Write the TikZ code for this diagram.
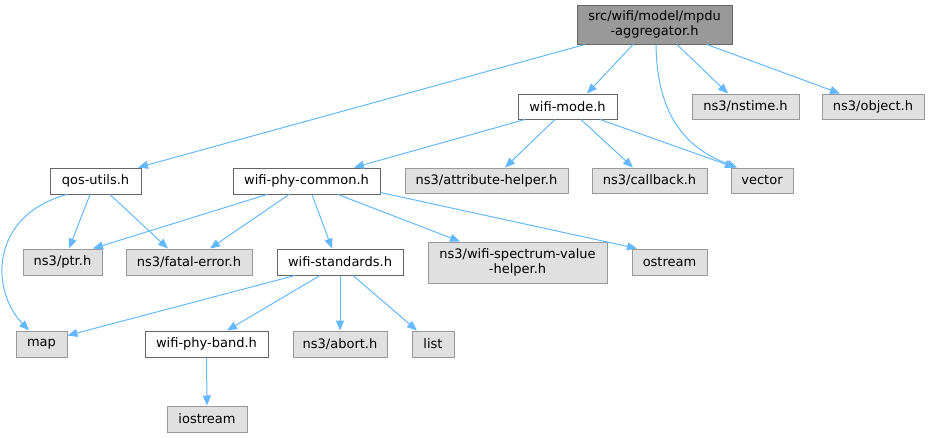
\documentclass[tikz,border=0pt]{standalone}
\usepackage{fontspec}
\setmainfont{DejaVu Sans}
\usetikzlibrary{arrows.meta}
\definecolor{edgeblue}{HTML}{63B8FF}
\definecolor{rootfill}{HTML}{999999}
\definecolor{darkborder}{HTML}{666666}
\definecolor{grayfill}{HTML}{E0E0E0}
\definecolor{grayborder}{HTML}{999999}
\begin{document}
\begin{tikzpicture}[x=1pt,y=-1pt,
  base/.style={rectangle,inner sep=0pt,minimum height=26pt,line width=1pt,align=center,
    font=\fontsize{13}{15}\selectfont},
  rootbox/.style={base,fill=rootfill,draw=darkborder,minimum height=39pt},
  whitebox/.style={base,fill=white,draw=darkborder},
  graybox/.style={base,fill=grayfill,draw=grayborder},
  edge/.style={draw=edgeblue,line width=1pt,-{Triangle[length=10pt,width=8pt]},fill=none},
  every node/.append style={text=black}]
\useasboundingbox (0,0) rectangle (929,437);
\node[rootbox,minimum width=155pt] (root) at (654.5,24.5) {src/wifi/model/mpdu\\-aggregator.h};
\node[whitebox,minimum width=99pt,minimum height=25pt] (wm) at (567.5,106.5) {wifi-mode.h};
\node[graybox,minimum width=107pt,minimum height=25pt] (nstime) at (745.5,106.5) {ns3/nstime.h};
\node[graybox,minimum width=102pt,minimum height=25pt] (object) at (873,106.5) {ns3/object.h};
\node[graybox,minimum width=163pt,minimum height=25pt] (attr) at (486.5,180.5) {ns3/attribute-helper.h};
\node[graybox,minimum width=115pt,minimum height=25pt] (callback) at (649.5,180.5) {ns3/callback.h};
\node[graybox,minimum width=62pt,minimum height=25pt] (vector) at (762,180.5) {vector};
\node[whitebox,minimum width=91pt] (qos) at (95.5,181) {qos-utils.h};
\node[whitebox,minimum width=147pt] (wpc) at (306.5,181) {wifi-phy-common.h};
\node[graybox,minimum width=79pt] (ptr) at (62.5,262) {ns3/ptr.h};
\node[graybox,minimum width=126pt] (fatal) at (189,262) {ns3/fatal-error.h};
\node[whitebox,minimum width=126pt] (std) at (340,262) {wifi-standards.h};
\node[graybox,minimum width=179pt,minimum height=41pt] (spectrum) at (517.5,262.5) {ns3/wifi-spectrum-value\\-helper.h};
\node[graybox,minimum width=75pt] (ostream) at (669.5,262) {ostream};
\node[graybox,minimum width=51pt] (map) at (41.5,344) {map};
\node[whitebox,minimum width=123pt] (band) at (206.5,344) {wifi-phy-band.h};
\node[graybox,minimum width=94pt] (abort) at (340,344) {ns3/abort.h};
\node[graybox,minimum width=42pt] (list) at (433,344) {list};
\node[graybox,minimum width=80pt] (iostream) at (207,419) {iostream};

\draw[edge] ([xshift=-69.5pt]root.south) -- ([xshift=42.5pt]qos.north);
\draw[edge] ([xshift=-21.5pt]root.south) -- ([xshift=19.5pt]wm.north);
\draw[edge] ([xshift=1.5pt]root.south) .. controls +(1,76) and +(-47,-18) .. ([xshift=-25pt]vector.north);
\draw[edge] ([xshift=22.5pt]root.south) -- ([xshift=-17.5pt]nstime.north);
\draw[edge] ([xshift=52.5pt]root.south) -- ([xshift=-33pt]object.north);
\draw[edge] ([xshift=-42.5pt]wm.south) -- ([xshift=47.5pt]wpc.north);
\draw[edge] ([xshift=-12.5pt]wm.south) -- ([xshift=18.5pt]attr.north);
\draw[edge] ([xshift=13.5pt]wm.south) -- ([xshift=-16.5pt]callback.north);
\draw[edge] ([xshift=32.5pt]wm.south) -- ([xshift=-27pt]vector.north);
\draw[edge] ([xshift=-28.5pt]qos.south) .. controls +(-77,21) and +(-39,-41) .. ([xshift=-12.5pt]map.north);
\draw[edge] ([xshift=-5.5pt]qos.south) -- ([xshift=6.5pt]ptr.north);
\draw[edge] ([xshift=14.5pt]qos.south) -- ([xshift=-21pt]fatal.north);
\draw[edge] ([xshift=-39.5pt]wpc.south) -- ([xshift=30.5pt]ptr.north);
\draw[edge] ([xshift=-17.5pt]wpc.south) -- ([xshift=21pt]fatal.north);
\draw[edge] ([xshift=5.5pt]wpc.south) -- ([xshift=-8pt]std.north);
\draw[edge] ([xshift=31.5pt]wpc.south) -- ([xshift=-57.5pt]spectrum.north);
\draw[edge] ([yshift=2pt]wpc.south east) -- ([xshift=-32.5pt]ostream.north);
\draw[edge] ([xshift=-45pt]std.south) -- ([yshift=-5pt]map.north east);
\draw[edge] ([xshift=-20pt]std.south) -- ([xshift=20.5pt]band.north);
\draw[edge] (std.south) -- (abort.north);
\draw[edge] ([xshift=13pt]std.south) -- ([xshift=-16pt]list.north);
\draw[edge] (band.south) -- (iostream.north);
\end{tikzpicture}
\end{document}
